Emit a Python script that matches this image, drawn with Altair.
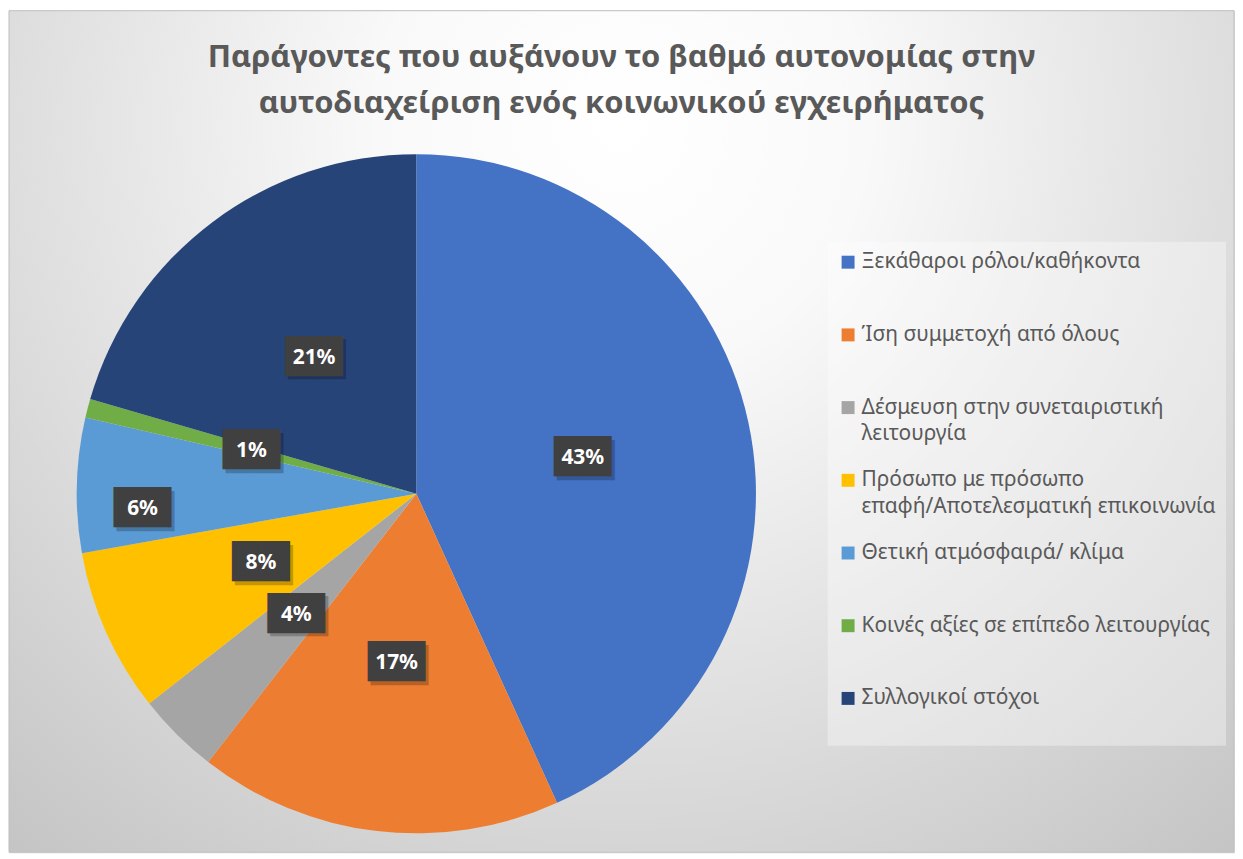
import json
import altair as alt
import pandas as pd

# ---------------- data ----------------
categories = [
    "Ξεκάθαροι ρόλοι/καθήκοντα",
    "Ίση συμμετοχή από όλους",
    "Δέσμευση στην συνεταιριστική λειτουργία",
    "Πρόσωπο με πρόσωπο επαφή/Αποτελεσματική επικοινωνία",
    "Θετική ατμόσφαιρά/ κλίμα",
    "Κοινές αξίες σε επίπεδο λειτουργίας",
    "Συλλογικοί στόχοι",
]
values = [43.2, 17.3, 3.9, 7.8, 6.4, 0.9, 20.5]
colors = ["#4472C4", "#ED7D31", "#A5A5A5", "#FFC000", "#5B9BD5", "#70AD47", "#264478"]
title_lines = [
    "Παράγοντες που αυξάνουν το βαθμό αυτονομίας στην",
    "αυτοδιαχείριση ενός κοινωνικού εγχειρήματος",
]
legend_lines = {
    categories[0]: ["Ξεκάθαροι ρόλοι/καθήκοντα", ""],
    categories[1]: ["Ίση συμμετοχή από όλους", ""],
    categories[2]: ["Δέσμευση στην συνεταιριστική", "λειτουργία"],
    categories[3]: ["Πρόσωπο με πρόσωπο", "επαφή/Αποτελεσματική επικοινωνία"],
    categories[4]: ["Θετική ατμόσφαιρά/ κλίμα", ""],
    categories[5]: ["Κοινές αξίες σε επίπεδο λειτουργίας", ""],
    categories[6]: ["Συλλογικοί στόχοι", ""],
}
outer_label_category = categories[4]

df = pd.DataFrame({"cat": categories, "v": values, "idx": list(range(len(categories)))})

# ---------------- layout / style ----------------
W, H = 1230, 845
CX_OFF, CY_OFF = -206, 62.5
R = 341
R_LABEL = 171
R_LABEL_OUT = 275
OUT_NUDGE = 22
BOX = "▕██▏"

label_expr = "datum.label"
for k, lines in legend_lines.items():
    label_expr = f"datum.label === {json.dumps(k, ensure_ascii=False)} ? {json.dumps(lines, ensure_ascii=False)} : " + label_expr

legend = alt.Legend(
    title=None,
    orient="none",
    legendX=822,
    legendY=232,
    direction="vertical",
    fillColor="rgba(255,255,255,0.35)",
    padding=10,
    labelFont="Noto Sans",
    labelFontSize=21,
    labelColor="#595959",
    labelLimit=500,
    labelOffset=3,
    symbolType="square",
    symbolSize=169,
    symbolStrokeWidth=0,
    rowPadding=24,
    gridAlign="all",
    labelExpr=label_expr,
)

color = alt.Color("cat:N", scale=alt.Scale(domain=categories, range=colors), legend=legend)

base = alt.Chart(df)

gradient = {
    "gradient": "radial",
    "x1": 0.5, "y1": 0.25, "r1": 0,
    "x2": 0.5, "y2": 0.25, "r2": 0.8,
    "stops": [
        {"offset": 0, "color": "#ffffff"},
        {"offset": 0.25, "color": "#f9f9f9"},
        {"offset": 1, "color": "#c2c2c2"},
    ],
}

background = alt.Chart(pd.DataFrame({"k": [0]})).mark_rect(
    fill=gradient, stroke="#bfbfbf", strokeWidth=1
).encode(
    x=alt.value(0), x2=alt.value({"expr": "width"}),
    y=alt.value(0), y2=alt.value({"expr": "height"}),
)

pie = base.mark_arc(outerRadius=R, xOffset=CX_OFF, yOffset=CY_OFF).encode(
    theta=alt.Theta("v:Q", stack=True),
    color=color,
    order=alt.Order("idx:Q"),
)

lab_base = base.transform_window(
    cum="sum(v)", sort=[alt.SortField("idx")], frame=[None, 0]
).transform_calculate(
    mid="datum.cum - datum.v / 2",
    lbl="format(datum.v / 100, '.0%')",
)


def label_layers(filter_expr, radius, nudge=0):
    b = lab_base.transform_filter(filter_expr)
    enc = dict(theta=alt.Theta("mid:Q"))
    shadow = b.mark_text(
        radius=radius, xOffset=CX_OFF + 3, yOffset=CY_OFF + nudge + 4, text=BOX,
        font="DejaVu Sans", fontSize=34, color="#000000", opacity=0.22,
        baseline="middle", align="center",
    ).encode(**enc)
    box = b.mark_text(
        radius=radius, xOffset=CX_OFF, yOffset=CY_OFF + nudge, text=BOX,
        font="DejaVu Sans", fontSize=34, color="#404040",
        baseline="middle", align="center",
    ).encode(**enc)
    txt = b.mark_text(
        radius=radius, xOffset=CX_OFF, yOffset=CY_OFF + nudge,
        font="Noto Sans", fontSize=21, fontWeight="bold", color="#ffffff",
        baseline="middle", align="center",
    ).encode(text="lbl:N", **enc)
    return [shadow, box, txt]


inner = label_layers(f"datum.cat !== {json.dumps(outer_label_category, ensure_ascii=False)}", R_LABEL)
outer = label_layers(f"datum.cat === {json.dumps(outer_label_category, ensure_ascii=False)}", R_LABEL_OUT, OUT_NUDGE)

chart = alt.layer(background, pie, *inner, *outer).properties(
    width=W,
    height=H,
    padding=0,
    title=alt.TitleParams(
        text=title_lines,
        font="Noto Sans",
        fontSize=31,
        fontWeight="bold",
        color="#595959",
        anchor="middle",
        frame="group",
        offset=-110,
        lineHeight=46,
    ),
).configure_view(
    stroke=None
).configure(
    style={"guide-label": {"lineHeight": 27}}
)

chart.save("out.html", embed_options={"renderer": "svg", "actions": False})
